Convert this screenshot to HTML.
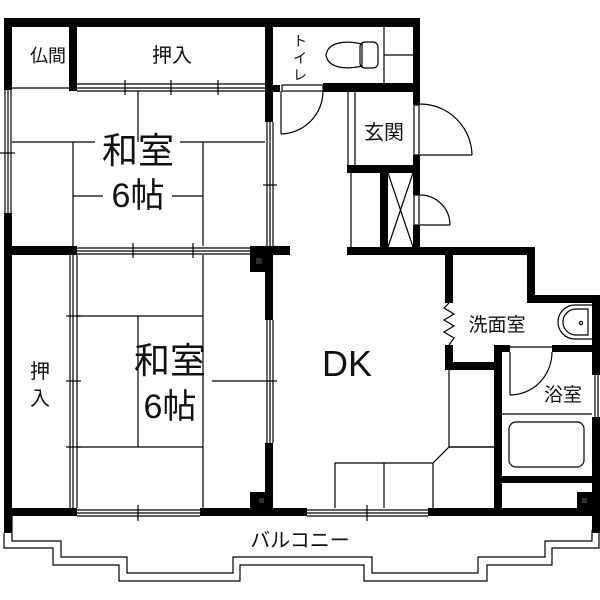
<!DOCTYPE html>
<html><head><meta charset="utf-8"><style>
html,body{margin:0;padding:0;background:#fff;}
svg{display:block;}
text{font-family:"Liberation Sans","Noto Sans CJK JP",sans-serif;fill:#111;}
</style></head><body>
<svg width="600" height="600" viewBox="0 0 600 600" xmlns="http://www.w3.org/2000/svg">
<g fill="#000">
<!-- top wall -->
<rect x="4" y="18" width="416" height="9"/>
<!-- left wall -->
<rect x="4" y="18" width="8" height="72"/>
<rect x="4" y="213" width="8" height="320"/>
<!-- butsuma partition -->
<rect x="69" y="27" width="8" height="64"/>
<!-- wall between oshiire/toilet -->
<rect x="265" y="18" width="8" height="104"/>
<rect x="265" y="85" width="15" height="7"/>
<!-- toilet right wall -->
<rect x="413" y="18" width="7" height="87"/>
<rect x="413" y="155" width="7" height="40"/>
<rect x="413" y="225" width="7" height="30"/>
<!-- toilet bottom wall -->
<rect x="323" y="83" width="97" height="9"/>
<!-- genkan bottom -->
<rect x="347" y="165" width="73" height="8"/>
<rect x="380" y="173" width="8" height="78"/>
<!-- middle horizontal wall -->
<rect x="12" y="246" width="65" height="9"/>
<rect x="250" y="246" width="40" height="9"/>
<rect x="250" y="246" width="20" height="26"/>
<rect x="347" y="247" width="188" height="8"/>
<!-- room2 right wall -->
<rect x="265" y="255" width="8" height="65"/>
<rect x="265" y="443" width="8" height="69"/>
<rect x="250" y="492" width="23" height="20"/>
<!-- bottom wall -->
<rect x="4" y="508" width="73" height="8"/>
<rect x="200" y="508" width="107" height="8"/>
<rect x="428" y="508" width="172" height="8"/>
<!-- washroom walls -->
<rect x="445" y="247" width="8" height="56"/>
<rect x="445" y="345" width="8" height="25"/>
<rect x="445" y="362" width="57" height="8"/>
<rect x="527" y="247" width="8" height="56"/>
<rect x="527" y="295" width="73" height="8"/>
<rect x="592" y="295" width="8" height="80"/>
<rect x="592" y="417" width="8" height="116"/>
<!-- bath walls -->
<rect x="494" y="345" width="8" height="167"/>
<rect x="494" y="345" width="16" height="7"/>
<rect x="552" y="345" width="40" height="7"/>
<rect x="502" y="476" width="90" height="7"/>
<rect x="577" y="492" width="15" height="20"/>
</g>
<g fill="#3a2a2a">
<rect x="256" y="258" width="6" height="6"/>
<rect x="259" y="498" width="5" height="5"/>
<rect x="582" y="498" width="5" height="5"/>
</g>
<g fill="none" stroke="#000" stroke-width="1.2">
<!-- butsuma bottom -->
<line x1="12" y1="88" x2="69" y2="88"/>
<!-- oshiire sliding -->
<line x1="77" y1="84" x2="265" y2="84"/><line x1="77" y1="88" x2="265" y2="88"/><line x1="77" y1="91" x2="265" y2="91"/>
<line x1="125" y1="80" x2="125" y2="95"/><line x1="171" y1="80" x2="171" y2="95"/><line x1="218" y1="80" x2="218" y2="95"/>
<!-- left window room1 -->
<line x1="5" y1="90" x2="5" y2="213"/><line x1="8" y1="90" x2="8" y2="213"/><line x1="11" y1="90" x2="11" y2="213"/>
<line x1="0" y1="153" x2="15" y2="153"/>
<!-- room1 right window -->
<line x1="267" y1="122" x2="267" y2="246"/><line x1="270" y1="122" x2="270" y2="246"/><line x1="273" y1="122" x2="273" y2="246"/>
<line x1="263" y1="185" x2="277" y2="185"/>
<!-- tatami room1 -->
<line x1="138" y1="91" x2="138" y2="142"/>
<line x1="12" y1="142" x2="95" y2="142"/><line x1="180" y1="142" x2="265" y2="142"/>
<line x1="73" y1="142" x2="73" y2="246"/><line x1="203" y1="142" x2="203" y2="246"/>
<line x1="73" y1="196" x2="103" y2="196"/><line x1="172" y1="196" x2="203" y2="196"/>
<!-- room2 top window -->
<line x1="77" y1="248" x2="250" y2="248"/><line x1="77" y1="251" x2="250" y2="251"/><line x1="77" y1="254" x2="250" y2="254"/>
<line x1="133" y1="243" x2="133" y2="258"/><line x1="193" y1="243" x2="193" y2="258"/>
<!-- oshiire partition room2 -->
<line x1="70" y1="255" x2="70" y2="508"/><line x1="73" y1="255" x2="73" y2="508"/><line x1="77" y1="255" x2="77" y2="508"/>
<line x1="66" y1="316" x2="81" y2="316"/><line x1="66" y1="381" x2="81" y2="381"/><line x1="66" y1="447" x2="81" y2="447"/>
<!-- tatami room2 -->
<line x1="77" y1="316" x2="203" y2="316"/>
<line x1="138" y1="316" x2="138" y2="447"/>
<line x1="203" y1="255" x2="203" y2="508"/>
<line x1="212" y1="381" x2="277" y2="381"/>
<line x1="77" y1="447" x2="203" y2="447"/>
<!-- room2 right window -->
<line x1="267" y1="320" x2="267" y2="443"/><line x1="270" y1="320" x2="270" y2="443"/><line x1="273" y1="320" x2="273" y2="443"/>
<!-- bottom windows -->
<line x1="77" y1="510" x2="200" y2="510"/><line x1="77" y1="513" x2="200" y2="513"/><line x1="77" y1="516" x2="200" y2="516"/>
<line x1="138" y1="505" x2="138" y2="521"/>
<line x1="307" y1="510" x2="428" y2="510"/><line x1="307" y1="513" x2="428" y2="513"/><line x1="307" y1="516" x2="428" y2="516"/>
<line x1="367" y1="505" x2="367" y2="521"/>
<!-- balcony -->
<polyline points="12,516 12,541 61,541 61,557 127,557 127,573 233,573 233,557 372,557 372,573 478,573 478,557 545,557 545,541 592,541 592,530"/>
<polyline points="4,533 4,548 53,548 53,565 119,565 119,581 240,581 240,565 364,565 364,581 487,581 487,565 552,565 552,548 599,548 599,530"/>
<!-- toilet -->
<line x1="384" y1="27" x2="384" y2="83"/><line x1="384" y1="55" x2="413" y2="55"/>
<path d="M362,44 C345,40 328,42 326,55 C328,68 345,70 362,66 Z"/>
<rect x="360" y="42" width="18" height="26" rx="5"/>
<!-- toilet door -->
<rect x="282" y="85" width="41" height="6"/>
<line x1="281" y1="91" x2="281" y2="134"/>
<path d="M281,134 A43,43 0 0 0 323,91"/>
<!-- genkan -->
<line x1="348" y1="92" x2="348" y2="165"/><line x1="355" y1="92" x2="355" y2="165"/>
<rect x="414" y="105" width="5" height="50"/>
<line x1="420" y1="155" x2="472" y2="155"/>
<path d="M420,104 A52,52 0 0 1 472,155"/>
<line x1="351" y1="173" x2="351" y2="247"/>
<line x1="388" y1="173" x2="413" y2="247"/><line x1="413" y1="173" x2="388" y2="247"/>
<rect x="414" y="195" width="5" height="30"/>
<line x1="420" y1="225" x2="450" y2="225"/>
<path d="M420,195 A30,30 0 0 1 450,225"/>
<!-- zigzag -->
<polyline points="449,303 444,308 454,314 444,320 454,326 444,332 454,338 449,345"/>
<!-- sink -->
<path d="M592,305 L575,305 A17,17 0 0 0 575,339 L592,339"/>
<path d="M588,309 L576,309 A13,13 0 0 0 576,335 L588,335 Z"/>
<circle cx="581" cy="323" r="1.6"/>
<!-- bath door -->
<line x1="510" y1="347" x2="552" y2="347"/>
<line x1="510" y1="352" x2="510" y2="395"/>
<path d="M510,395 A42,43 0 0 0 552,352"/>
<line x1="502" y1="414" x2="592" y2="414"/>
<rect x="509" y="422" width="75" height="45" rx="7"/>
<line x1="595" y1="375" x2="595" y2="417"/><line x1="598" y1="375" x2="598" y2="417"/>
<!-- kitchen counter -->
<polyline points="449,370 449,447 494,447"/>
<polyline points="494,447 449,447 433,463 335,463 335,508"/>
<line x1="384" y1="463" x2="384" y2="508"/>
<line x1="433" y1="463" x2="433" y2="508"/>
</g>
<g>
<text x="48" y="62" font-size="18" text-anchor="middle">仏間</text>
<text x="172" y="62" font-size="20" text-anchor="middle">押入</text>
<text x="138" y="163" font-size="36" text-anchor="middle">和室</text>
<text x="138" y="207" font-size="34" text-anchor="middle">6帖</text>
<text x="170" y="373" font-size="36" text-anchor="middle">和室</text>
<text x="170" y="418" font-size="34" text-anchor="middle">6帖</text>
<text x="40" y="378" font-size="20" text-anchor="middle">押</text>
<text x="40" y="405" font-size="20" text-anchor="middle">入</text>
<text x="300" y="46" font-size="14" text-anchor="middle">ト</text>
<text x="300" y="63" font-size="14" text-anchor="middle">イ</text>
<text x="300" y="80" font-size="14" text-anchor="middle">レ</text>
<text x="384" y="139" font-size="20" text-anchor="middle">玄関</text>
<text x="347" y="376" font-size="36" text-anchor="middle">DK</text>
<text x="497" y="331" font-size="19" text-anchor="middle">洗面室</text>
<text x="563" y="401" font-size="19" text-anchor="middle">浴室</text>
<text x="300" y="547" font-size="20" text-anchor="middle">バルコニー</text>
</g>
</svg>
</body></html>
